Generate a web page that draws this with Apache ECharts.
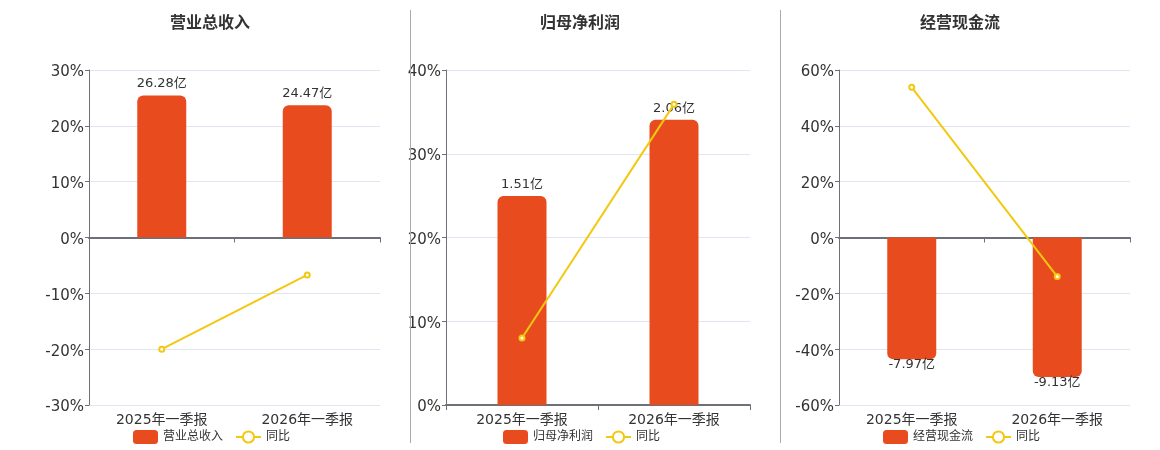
<!DOCTYPE html>
<html>
<head>
<meta charset="utf-8">
<script src="https://cdn.jsdelivr.net/npm/echarts@6/dist/echarts.min.js"></script>
<style>
  html, body { margin: 0; padding: 0; background: #fff; }
  #chart { width: 1160px; height: 450px; }
  .sep { position: absolute; top: 10px; height: 433px; width: 0; border-left: 1px solid #aaa; }
</style>
</head>
<body>
<div id="chart"></div>
<div class="sep" style="left:410px"></div>
<div class="sep" style="left:780px"></div>
<script>
// categories
const periods = ['2025年一季报', '2026年一季报'];

// panel titles / bar series names
const titles = ['营业总收入', '归母净利润', '经营现金流'];

// bar values (亿)
const revenue = [26.28, 24.47];
const netProfit = [1.51, 2.06];
const cashFlow = [-7.97, -9.13];

// yoy growth (%)
const revenueYoy = [-20.0, -6.7];
const netProfitYoy = [8.0, 35.9];
const cashFlowYoy = [53.8, -14.0];

// percent axis ranges
const pctMin = [-30, 0, -60];
const pctMax = [30, 40, 60];
const pctInterval = [10, 10, 20];

// hidden value axis ranges for bars
const barMin = [-31, 0, -10.96];
const barMax = [31, 2.42, 10.96];

const BAR = '#e84c1e';
const LINE = '#f2c811';

const grids = [
  { left: 89, right: 780, top: 70, bottom: 45 },
  { left: 446, right: 410, top: 70, bottom: 45 },
  { left: 839, right: 30, top: 70, bottom: 45 }
];
const titleCenters = [210, 580, 960];
const legendLefts = [133, 503, 883];
const barData = [revenue, netProfit, cashFlow];
const yoyData = [revenueYoy, netProfitYoy, cashFlowYoy];

const chart = echarts.init(document.getElementById('chart'));

const xAxis = [], yAxis = [], series = [], title = [], legend = [];
grids.forEach((g, i) => {
  title.push({
    text: titles[i], left: titleCenters[i], top: 16, textAlign: 'center', padding: 0,
    textStyle: { fontSize: 16, fontWeight: 'bold', color: '#333' }
  });
  legend.push({
    data: [titles[i], '同比'], left: legendLefts[i], top: 430, padding: 0,
    itemWidth: 25, itemHeight: 14, itemGap: 12,
    textStyle: { fontSize: 12, color: '#333' }
  });
  // label axis at the bottom
  xAxis.push({
    type: 'category', gridIndex: i, data: periods, position: 'bottom',
    axisLine: { show: false, onZero: false }, axisTick: { show: false },
    axisLabel: { fontSize: 14, color: '#333', margin: 8 }
  });
  // zero line axis
  xAxis.push({
    type: 'category', gridIndex: i, data: periods, position: 'bottom',
    axisLine: { onZero: true, lineStyle: { color: '#6e7079', width: 2 } },
    axisTick: { show: true, length: 5, lineStyle: { color: '#6e7079' } },
    axisLabel: { show: false }
  });
  yAxis.push({
    type: 'value', gridIndex: i, min: pctMin[i], max: pctMax[i], interval: pctInterval[i],
    axisLine: { show: true, lineStyle: { color: '#6e7079' } },
    axisTick: { show: true, length: 4 },
    axisLabel: {
      formatter: v => '{p|' + v + '%}', margin: 5,
      rich: { p: { fontSize: 15, color: '#333', padding: [5, 0, 0, 0] } }
    },
    splitLine: { lineStyle: { color: '#e0e6f1' } }
  });
  yAxis.push({
    type: 'value', gridIndex: i, min: barMin[i], max: barMax[i], show: false,
    splitLine: { show: false }
  });
  const neg = barData[i][0] < 0;
  series.push({
    name: titles[i], type: 'bar', xAxisIndex: i * 2, yAxisIndex: i * 2 + 1,
    data: barData[i], barWidth: 49,
    itemStyle: { color: BAR, borderRadius: neg ? [0, 0, 6, 6] : [6, 6, 0, 0] },
    label: {
      show: true, position: neg ? 'bottom' : 'top', distance: neg ? -1 : 5,
      formatter: p => p.value + '亿', fontSize: 13, color: '#333'
    }
  });
  series.push({
    name: '同比', type: 'line', xAxisIndex: i * 2, yAxisIndex: i * 2,
    data: yoyData[i], symbol: 'emptyCircle', symbolSize: 5,
    lineStyle: { color: LINE, width: 2 }, itemStyle: { color: LINE },
    z: 5
  });
});

chart.setOption({
  animation: false,
  textStyle: { fontFamily: 'DejaVu Sans, Noto Sans CJK SC, sans-serif' },
  title, legend,
  grid: grids,
  xAxis, yAxis, series
});
</script>
</body>
</html>
